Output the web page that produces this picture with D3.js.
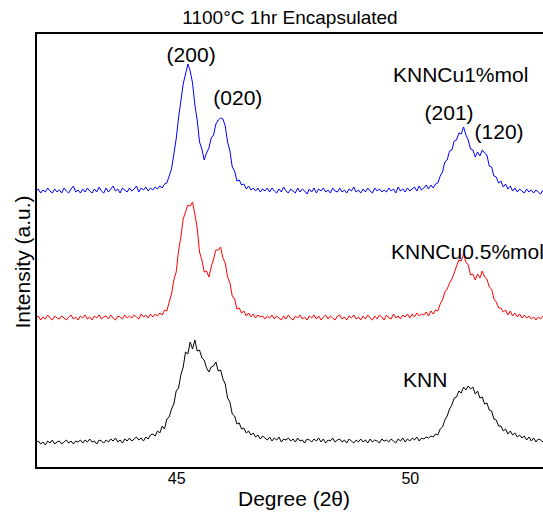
<!DOCTYPE html>
<html>
<head>
<meta charset="utf-8">
<script src="https://cdn.jsdelivr.net/npm/d3@7"></script>
<style>
  html, body { margin: 0; padding: 0; background: #fff; }
  svg { display: block; font-family: "Liberation Sans", Arial, sans-serif; }
</style>
</head>
<body>
<div id="chart"></div>
<script>
// ---- data (2θ sampling grid and stacked intensities, a.u.) ----
const startAngle = 42.0;
const stepAngle = 0.05;

const knn = [
  25,27,24,26,23,27,25,28,24,26,
  27,24,26,28,25,27,24,27,26,28,
  25,28,26,29,26,27,24,28,27,25,
  28,26,29,27,30,26,28,25,29,27,
  30,27,29,31,28,30,27,31,29,33,
  34,32,37,35,42,39,49,51,59,64,
  77,80,93,101,116,114,126,119,128,117,
  118,110,108,100,96,101,102,106,97,98,
  89,84,70,66,54,52,44,45,39,40,
  35,37,33,35,31,33,29,32,30,28,
  31,27,30,28,31,26,29,28,30,27,
  29,26,30,27,28,25,29,28,26,29,
  27,30,26,29,25,28,27,30,26,28,
  29,26,28,25,29,27,25,28,26,29,
  26,28,25,29,26,28,27,25,29,27,
  28,26,29,27,25,29,27,30,26,29,
  27,30,28,31,27,30,29,31,30,32,
  31,34,33,39,41,48,52,59,63,70,
  71,77,75,81,78,82,79,81,74,77,
  70,71,64,65,58,57,49,48,42,42,
  37,39,34,37,33,35,31,33,30,32,
  28,31,27,30,26,29,28,26,29,27,
  28
];

const knnCu05 = [
  150,152,148,151,149,153,150,148,152,150,
  149,152,150,148,151,153,149,151,148,152,
  150,153,149,151,148,152,150,153,149,151,
  152,149,153,150,148,152,151,149,153,150,
  152,150,153,151,149,154,151,153,150,154,
  151,154,152,155,153,158,157,166,174,188,
  196,217,231,249,256,263,262,266,254,240,
  216,208,196,197,191,201,209,218,218,221,
  210,205,191,185,172,169,159,160,155,157,
  152,155,151,154,150,153,151,152,149,152,
  150,153,149,152,150,148,152,149,153,150,
  148,152,150,153,149,151,148,152,150,153,
  149,152,148,151,153,149,152,150,148,152,
  153,149,151,148,152,150,153,149,151,148,
  152,149,153,150,148,152,149,153,151,148,
  153,150,149,154,150,152,149,153,151,154,
  150,154,151,155,152,154,153,156,152,157,
  154,158,157,164,168,176,179,185,189,195,
  202,208,207,214,206,203,193,194,188,194,
  190,197,191,189,181,179,169,166,160,160,
  156,158,153,157,152,155,151,154,150,153,
  150,152,149,151,148,151,149,152,150,148,
  151
];

const knnCu1 = [
  277,279,275,278,276,280,277,275,279,276,
  278,275,280,277,275,279,282,276,278,275,
  279,276,280,277,275,279,276,281,277,275,
  280,276,279,282,277,279,275,280,278,276,
  280,277,279,282,276,280,278,281,277,280,
  278,281,279,282,280,284,285,292,299,314,
  329,350,367,384,394,404,397,385,363,348,
  326,319,308,315,320,330,333,344,348,350,
  349,342,326,317,301,297,287,288,283,284,
  279,282,278,280,277,280,276,279,277,280,
  276,280,277,275,279,276,281,277,275,279,
  277,275,280,276,279,277,274,279,276,280,
  275,279,277,280,276,278,275,280,277,276,
  280,276,278,275,279,277,281,276,278,275,
  279,276,280,277,275,280,277,279,276,278,
  276,280,277,279,275,281,277,279,276,280,
  277,279,281,277,282,278,280,283,279,283,
  280,284,285,292,296,306,308,317,318,327,
  328,335,334,341,333,328,319,318,311,316,
  312,318,315,313,302,301,292,291,285,287,
  281,284,279,282,277,280,276,279,277,275,
  279,276,278,275,278,276,274,278,276,277,
  276
];

const seriesNames = ["KNN", "KNNCu0.5%mol", "KNNCu1%mol"];
const seriesColors = ["#000000", "#ff0000", "#0000ff"];
const xTickValues = [45, 50];
const xDomain = [42, 53];
const yDomain = [0, 435];

const peakLabels = ["(200)", "(020)", "(201)", "(120)"];
const peakAngles = [45.32, 46.32, 50.84, 51.91];
const peakHeights = [406, 363, 348, 329];

const titleText = "1100°C 1hr Encapsulated";
const xLabelText = "Degree (2θ)";
const yLabelText = "Intensity (a.u.)";

// ---- layout ----
const W = 543, H = 521;
const margin = { left: 36, top: 33 };
const plotW = 514, plotH = 435;

const svg = d3.select("#chart").append("svg")
  .attr("width", W).attr("height", H);

const x = d3.scaleLinear().domain(xDomain).range([margin.left, margin.left + plotW]);
const y = d3.scaleLinear().domain(yDomain).range([margin.top + plotH, margin.top]);

const allSeries = [knn, knnCu05, knnCu1];
const line = d3.line()
  .x((d, i) => x(startAngle + i * stepAngle))
  .y(d => y(d));

svg.append("defs").append("clipPath").attr("id", "clip")
  .append("rect").attr("x", margin.left).attr("y", margin.top)
  .attr("width", plotW).attr("height", plotH);

const g = svg.append("g").attr("clip-path", "url(#clip)");
allSeries.forEach((s, k) => {
  g.append("path")
    .datum(s)
    .attr("fill", "none")
    .attr("stroke", seriesColors[k])
    .attr("stroke-width", 1)
    .attr("stroke-linejoin", "miter")
    .attr("d", line);
});

// frame: left, top, bottom
svg.append("path")
  .attr("fill", "none").attr("stroke", "#000").attr("stroke-width", 2)
  .attr("d", `M${x(xDomain[1])},${y(yDomain[1])} L${x(xDomain[0])},${y(yDomain[1])} L${x(xDomain[0])},${y(yDomain[0])} L${x(xDomain[1])},${y(yDomain[0])}`);

// x axis tick labels (no tick marks)
const xAxis = d3.axisBottom(x).tickValues(xTickValues).tickSize(0).tickPadding(5).tickFormat(d3.format("d"));
const ax = svg.append("g").attr("transform", `translate(0,${y(0)})`).call(xAxis);
ax.select(".domain").remove();
ax.selectAll("text").attr("font-size", 16).attr("font-family", "Liberation Sans, Arial, sans-serif").attr("fill", "#000");

// title
svg.append("text").attr("x", 290).attr("y", 24).attr("text-anchor", "middle")
  .attr("font-size", 19).text(titleText);

// axis labels
svg.append("text").attr("x", 294).attr("y", 506).attr("text-anchor", "middle")
  .attr("font-size", 21).text(xLabelText);
svg.append("text").attr("transform", "translate(30,262) rotate(-90)").attr("text-anchor", "middle")
  .attr("font-size", 21).text(yLabelText);

// series labels
const seriesLabelPos = [[403, 387], [391, 259], [393, 82]];
seriesNames.forEach((n, k) => {
  svg.append("text").attr("x", seriesLabelPos[k][0]).attr("y", seriesLabelPos[k][1])
    .attr("font-size", 21).text(n);
});

// peak labels
peakLabels.forEach((t, k) => {
  svg.append("text").attr("x", x(peakAngles[k])).attr("y", y(peakHeights[k]))
    .attr("text-anchor", "middle").attr("font-size", 21).text(t);
});
</script>
</body>
</html>
